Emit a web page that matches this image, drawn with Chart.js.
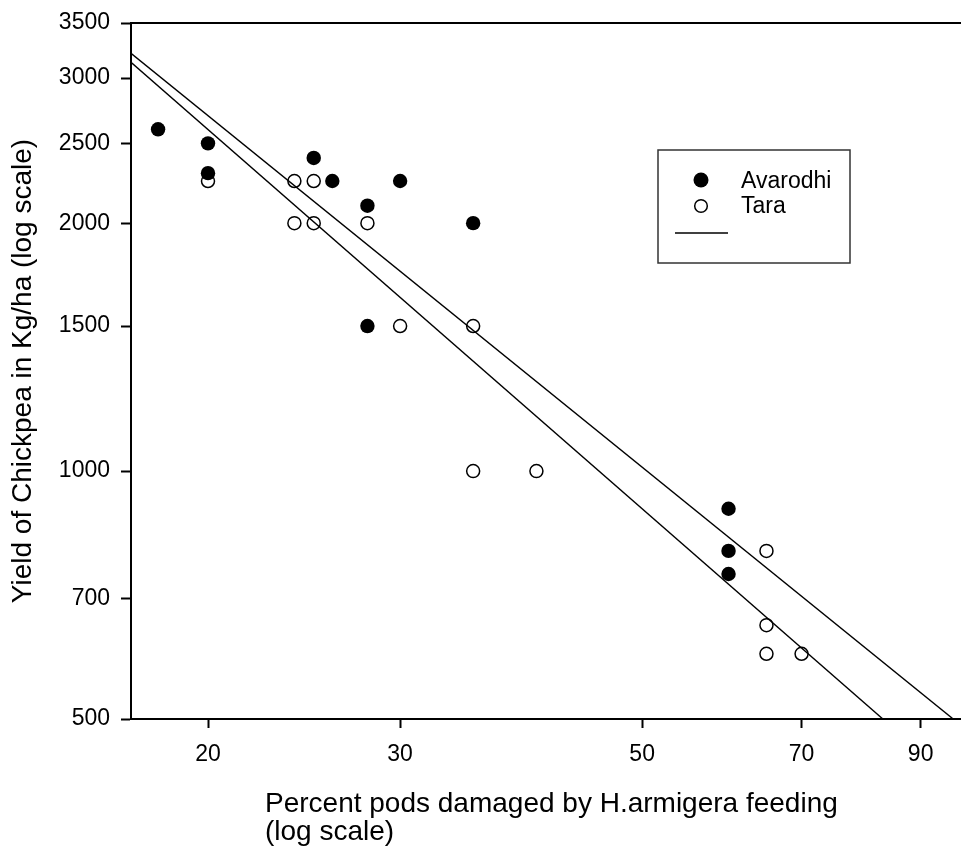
<!DOCTYPE html>
<html>
<head>
<meta charset="utf-8">
<script src="https://cdn.jsdelivr.net/npm/chart.js@4.4.0/dist/chart.umd.min.js"></script>
<style>
  html, body { margin: 0; padding: 0; background: #fff; }
  #wrap { width: 961px; height: 846px; }
</style>
</head>
<body>
<div id="wrap"><canvas id="chart"></canvas></div>
<script>
// values (both axes log)
const avarodhiX = [18, 20, 20, 25, 26, 28, 28, 30, 35, 60, 60, 60];
const avarodhiY = [2600, 2500, 2300, 2400, 2250, 2100, 1500, 2250, 2000, 900, 800, 750];

const taraX = [20, 24, 25, 24, 25, 28, 30, 35, 35, 40, 65, 65, 65, 70];
const taraY = [2250, 2250, 2250, 2000, 2000, 2000, 1500, 1500, 1000, 1000, 800, 650, 600, 600];

// fitted regression lines (end points)
const fitUpperX = [17, 96.4];
const fitUpperY = [3216, 500];
const fitLowerX = [17, 83.1];
const fitLowerY = [3136, 500];

const xTicks = [20, 30, 50, 70, 90];
const yTicks = [500, 700, 1000, 1500, 2000, 2500, 3000, 3500];

const legendLabels = ['Avarodhi', 'Tara'];
const xTitleLines = ['Percent pods damaged by H.armigera feeding', '(log scale)'];
const yTitle = 'Yield of Chickpea in Kg/ha (log scale)';

const FONT = '"Liberation Sans", Arial, Helvetica, sans-serif';

function toPoints(xs, ys) {
    return xs.map((x, i) => ({ x: x, y: ys[i] }));
}

// top frame line, x title and boxed legend
const frameAndLegend = {
    id: 'frameAndLegend',
    afterDraw: (chart) => {
        const ctx = chart.ctx;
        const area = chart.chartArea;

        ctx.save();
        ctx.strokeStyle = '#000';
        ctx.lineWidth = 2;
        ctx.beginPath();
        ctx.moveTo(area.left - 1, area.top);
        ctx.lineTo(area.right, area.top);
        ctx.stroke();
        ctx.restore();

        // x axis title, two left aligned lines
        ctx.save();
        ctx.font = '28px ' + FONT;
        ctx.fillStyle = '#000';
        ctx.textAlign = 'left';
        ctx.textBaseline = 'alphabetic';
        const tx = area.left + 134;
        ctx.fillText(xTitleLines[0], tx, area.bottom + 93);
        ctx.fillText(xTitleLines[1], tx, area.bottom + 121);
        ctx.restore();

        // legend box
        const bx = area.left + 527;
        const by = area.top + 127;
        ctx.save();
        ctx.strokeStyle = '#333';
        ctx.lineWidth = 1.5;
        ctx.strokeRect(bx, by, 192, 113);

        ctx.fillStyle = '#000';
        ctx.beginPath();
        ctx.arc(bx + 43, by + 30, 7.5, 0, Math.PI * 2);
        ctx.fill();

        ctx.beginPath();
        ctx.arc(bx + 43, by + 56, 6.3, 0, Math.PI * 2);
        ctx.fillStyle = '#fff';
        ctx.fill();
        ctx.lineWidth = 1.5;
        ctx.strokeStyle = '#000';
        ctx.stroke();

        ctx.beginPath();
        ctx.lineWidth = 1.4;
        ctx.moveTo(bx + 17, by + 83);
        ctx.lineTo(bx + 70, by + 83);
        ctx.stroke();

        ctx.font = '23px ' + FONT;
        ctx.fillStyle = '#000';
        ctx.textAlign = 'left';
        ctx.textBaseline = 'alphabetic';
        ctx.fillText(legendLabels[0], bx + 83, by + 38);
        ctx.fillText(legendLabels[1], bx + 83, by + 63);
        ctx.restore();
    }
};

new Chart(document.getElementById('chart'), {
    type: 'scatter',
    data: {
        datasets: [
            {
                label: 'fit upper',
                type: 'line',
                data: toPoints(fitUpperX, fitUpperY),
                borderColor: '#000',
                borderWidth: 1.4,
                pointRadius: 0,
                fill: false
            },
            {
                label: 'fit lower',
                type: 'line',
                data: toPoints(fitLowerX, fitLowerY),
                borderColor: '#000',
                borderWidth: 1.4,
                pointRadius: 0,
                fill: false
            },
            {
                label: legendLabels[0],
                data: toPoints(avarodhiX, avarodhiY),
                backgroundColor: '#000',
                borderColor: '#000',
                borderWidth: 0,
                pointRadius: 7.2
            },
            {
                label: legendLabels[1],
                data: toPoints(taraX, taraY),
                backgroundColor: '#fff',
                borderColor: '#000',
                borderWidth: 1.5,
                pointRadius: 6.5
            }
        ]
    },
    options: {
        responsive: true,
        maintainAspectRatio: false,
        animation: false,
        layout: {
            autoPadding: false,
            padding: { top: 23, right: 0, left: 0, bottom: 0 }
        },
        plugins: {
            legend: { display: false },
            tooltip: { enabled: false }
        },
        scales: {
            x: {
                type: 'logarithmic',
                min: 17,
                max: 98,
                afterBuildTicks: (scale) => {
                    scale.ticks = xTicks.map(v => ({ value: v }));
                },
                afterFit: (scale) => {
                    scale.height = 127;
                    scale.paddingLeft = 0;
                    scale.paddingRight = 0;
                },
                ticks: {
                    color: '#000',
                    font: { size: 23, family: FONT },
                    padding: 13,
                    maxRotation: 0,
                    autoSkip: false,
                    callback: (v) => String(v)
                },
                grid: {
                    drawOnChartArea: false,
                    tickLength: 9,
                    tickWidth: 2,
                    tickColor: '#000'
                },
                border: { color: '#000', width: 2 },
                title: { display: false }
            },
            y: {
                type: 'logarithmic',
                min: 500,
                max: 3500,
                afterBuildTicks: (scale) => {
                    scale.ticks = yTicks.map(v => ({ value: v }));
                },
                afterFit: (scale) => {
                    scale.width = 131;
                    scale.paddingTop = 0;
                    scale.paddingBottom = 0;
                },
                ticks: {
                    color: '#000',
                    font: { size: 23, family: FONT },
                    padding: 11,
                    autoSkip: false,
                    callback: (v) => String(v)
                },
                grid: {
                    drawOnChartArea: false,
                    tickLength: 10,
                    tickWidth: 2,
                    tickColor: '#000'
                },
                border: { color: '#000', width: 2 },
                title: {
                    display: true,
                    text: yTitle,
                    color: '#000',
                    font: { size: 28, family: FONT },
                    padding: { top: 6, bottom: 0 }
                }
            }
        }
    },
    plugins: [frameAndLegend]
});
</script>
</body>
</html>
